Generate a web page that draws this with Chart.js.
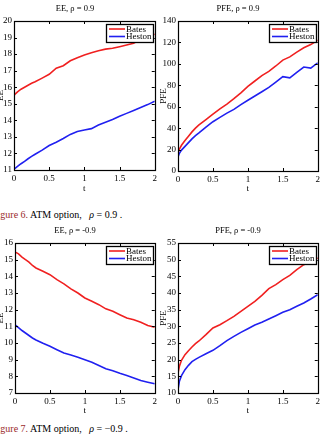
<!DOCTYPE html>
<html><head><meta charset="utf-8">
<script src="https://cdn.jsdelivr.net/npm/chart.js@4"></script>
<style>
html,body{margin:0;padding:0;background:#fff;overflow:hidden;}
#wrap{position:relative;width:325px;height:434px;overflow:hidden;background:#fff;}
canvas{position:absolute;}
.cap{position:absolute;font-family:'Liberation Serif',serif;font-size:10px;white-space:nowrap;color:#000;line-height:10px;}
.cap .fig{color:#9a2a2a;}
</style></head><body><div id="wrap">
<canvas id="c1" width="165" height="200" style="left:-5px;top:0px"></canvas>
<canvas id="c2" width="165" height="200" style="left:158px;top:0px"></canvas>
<canvas id="c3" width="165" height="200" style="left:-5px;top:222px"></canvas>
<canvas id="c4" width="165" height="200" style="left:158px;top:222px"></canvas>
<div class="cap" style="left:-8px;top:210px"><span class="fig">Figure 6.</span> ATM option,&nbsp;&nbsp; <i>ρ</i> = 0.9 .</div>
<div class="cap" style="left:-8px;top:424px"><span class="fig">Figure 7.</span> ATM option,&nbsp;&nbsp; <i>ρ</i> = −0.9 .</div>
</div>
<script>
// ---- data ----
const tValues = [0,0.02,0.05,0.1,0.15,0.2,0.25,0.3,0.4,0.5,0.6,0.7,0.8,0.9,1.0,1.1,1.2,1.3,1.4,1.5,1.6,1.7,1.8,1.9,2.0];
const xTickLabels = ['0','0.5','1','1.5','2'];
const seriesNames = ['Bates','Heston'];

const batesEEpos  = [15.5,15.6,15.72,15.88,16.0,16.12,16.24,16.33,16.55,16.78,17.15,17.3,17.6,17.78,17.95,18.08,18.2,18.3,18.35,18.45,18.55,18.65,18.9,19.1,19.2];
const hestonEEpos = [11.05,11.12,11.22,11.38,11.52,11.68,11.82,11.95,12.2,12.48,12.68,12.9,13.15,13.32,13.42,13.5,13.72,13.88,14.05,14.25,14.42,14.6,14.78,14.95,15.15];

const batesPFEpos  = [17,20.5,24,28.5,32.5,36.5,40,43,48,53,58,62.5,67.5,73,79,84,89,93,98,103.5,106.5,111,115,118,122];
const hestonPFEpos = [13,16.5,19.5,23,26.5,30,33,35.5,41,46,50,54,57.5,62,66,70,74,78,83,88,87,92,97,96,101];

const batesEEneg  = [15.45,15.42,15.35,15.15,15.0,14.85,14.65,14.5,14.3,14.1,13.8,13.55,13.25,13.0,12.7,12.5,12.3,12.05,11.9,11.7,11.5,11.4,11.25,11.05,10.95];
const hestonEEneg = [11.08,11.02,10.92,10.75,10.6,10.45,10.3,10.18,9.98,9.8,9.6,9.4,9.28,9.15,9.0,8.85,8.65,8.45,8.33,8.18,8.05,7.9,7.75,7.65,7.55];

const batesPFEneg  = [16,18,19.8,21.5,22.7,23.8,24.8,25.6,27.5,29.5,30.5,31.7,33,34.5,36,37.5,39.3,41.3,42.5,44,45.3,47,48.5,49.5,50.5];
const hestonPFEneg = [11,13.5,15.2,17,18.3,19.4,20.1,20.7,21.8,22.8,24.2,25.7,27,28.2,29.3,30.4,31.2,32.2,33.2,34.2,35,36,37,38.2,39.5];

const titles = ['EE, ρ = 0.9','PFE, ρ = 0.9','EE, ρ = -0.9','PFE, ρ = -0.9'];
const yTitles = ['EE','PFE','EE','PFE'];
const yRanges = [[11,20,1],[0,140,20],[7,16,1],[10,55,5]];

const FONT = "'Liberation Serif', 'Times New Roman', serif";
const colors = ['#f02020','#2020f0'];

const framePlugin = {
  id: 'frame',
  afterDatasetsDraw(chart) {
    const {ctx, chartArea: a, scales: {x, y}} = chart;
    ctx.save();
    ctx.strokeStyle = '#000';
    ctx.lineWidth = 1;
    ctx.beginPath();
    const L = 3;
    x.ticks.forEach(t => {
      const px = Math.round(x.getPixelForValue(t.value)) + 0.5;
      ctx.moveTo(px, a.bottom); ctx.lineTo(px, a.bottom - L);
      ctx.moveTo(px, a.top); ctx.lineTo(px, a.top + L);
    });
    y.ticks.forEach(t => {
      const py = Math.round(y.getPixelForValue(t.value)) + 0.5;
      ctx.moveTo(a.left, py); ctx.lineTo(a.left + L, py);
      ctx.moveTo(a.right, py); ctx.lineTo(a.right - L, py);
    });
    ctx.stroke();
    ctx.lineWidth = 1.2;
    ctx.strokeRect(Math.round(a.left) + 0.5, Math.round(a.top) + 0.5, Math.round(a.right - a.left), Math.round(a.bottom - a.top));
    // legend box inside upper-right
    const bw = 47, bh = 18;
    const bx = Math.round(a.right) - 2 - bw, by = Math.round(a.top) + 3;
    ctx.fillStyle = '#fff';
    ctx.fillRect(bx, by, bw, bh);
    ctx.lineWidth = 1.3;
    ctx.strokeRect(bx + 0.5, by + 0.5, bw, bh);
    ctx.font = '9px ' + FONT;
    ctx.textBaseline = 'middle';
    chart.data.datasets.forEach((ds, i) => {
      const cy = by + 5 + i * 7.5;
      ctx.strokeStyle = ds.borderColor;
      ctx.lineWidth = 1.6;
      ctx.beginPath();
      ctx.moveTo(bx + 3, cy); ctx.lineTo(bx + 19, cy);
      ctx.stroke();
      ctx.fillStyle = '#000';
      ctx.fillText(ds.label, bx + 20, cy + 0.5);
    });
    ctx.restore();
  }
};

function makeChart(id, idx, ySeries, yw, xh) {
  const [ymin, ymax, ystep] = yRanges[idx];
  new Chart(document.getElementById(id), {
    type: 'line',
    data: {
      datasets: ySeries.map((vals, i) => ({
        label: seriesNames[i],
        data: tValues.map((t, k) => ({x: t, y: vals[k]})),
        borderColor: colors[i],
        borderWidth: 1.6,
        pointRadius: 0,
        tension: 0,
        fill: false
      }))
    },
    options: {
      responsive: false,
      animation: false,
      devicePixelRatio: 1,
      layout: {padding: {left: 0, right: 5, top: 0, bottom: 0}},
      plugins: {
        legend: {display: false},
        tooltip: {enabled: false},
        title: {
          display: true,
          text: titles[idx],
          color: '#000',
          font: {family: FONT, size: 8.5, weight: 'normal', lineHeight: 1.2},
          padding: {top: 4, bottom: 6.8}
        }
      },
      scales: {
        x: {
          type: 'linear',
          min: 0, max: 2,
          grid: {display: false, drawTicks: false},
          border: {display: false},
          ticks: {
            stepSize: 0.5,
            padding: 3,
            color: '#000',
            maxRotation: 0,
            font: {family: FONT, size: 9},
            callback: (v) => xTickLabels[Math.round(v * 2)]
          },
          title: {
            display: true, text: 't', color: '#000',
            font: {family: FONT, size: 9, lineHeight: 1.2},
            padding: {top: 0, bottom: 5.6}
          },
          afterFit: (s) => { s.height = xh; }
        },
        y: {
          type: 'linear',
          min: ymin, max: ymax,
          grid: {display: false, drawTicks: false},
          border: {display: false},
          ticks: {
            stepSize: ystep,
            padding: 2,
            color: '#000',
            font: {family: FONT, size: 9}
          },
          title: {
            display: true, text: yTitles[idx], color: '#000',
            font: {family: FONT, size: 9, lineHeight: 1.2},
            padding: {top: 0, bottom: 0}
          },
          afterFit: (s) => { s.width = yw; }
        }
      }
    },
    plugins: [framePlugin]
  });
}

makeChart('c1', 0, [batesEEpos, hestonEEpos], 19, 30);
makeChart('c2', 1, [batesPFEpos, hestonPFEpos], 20, 29);
makeChart('c3', 2, [batesEEneg, hestonEEneg], 20, 29);
makeChart('c4', 3, [batesPFEneg, hestonPFEneg], 20, 29);
</script>
</body></html>
